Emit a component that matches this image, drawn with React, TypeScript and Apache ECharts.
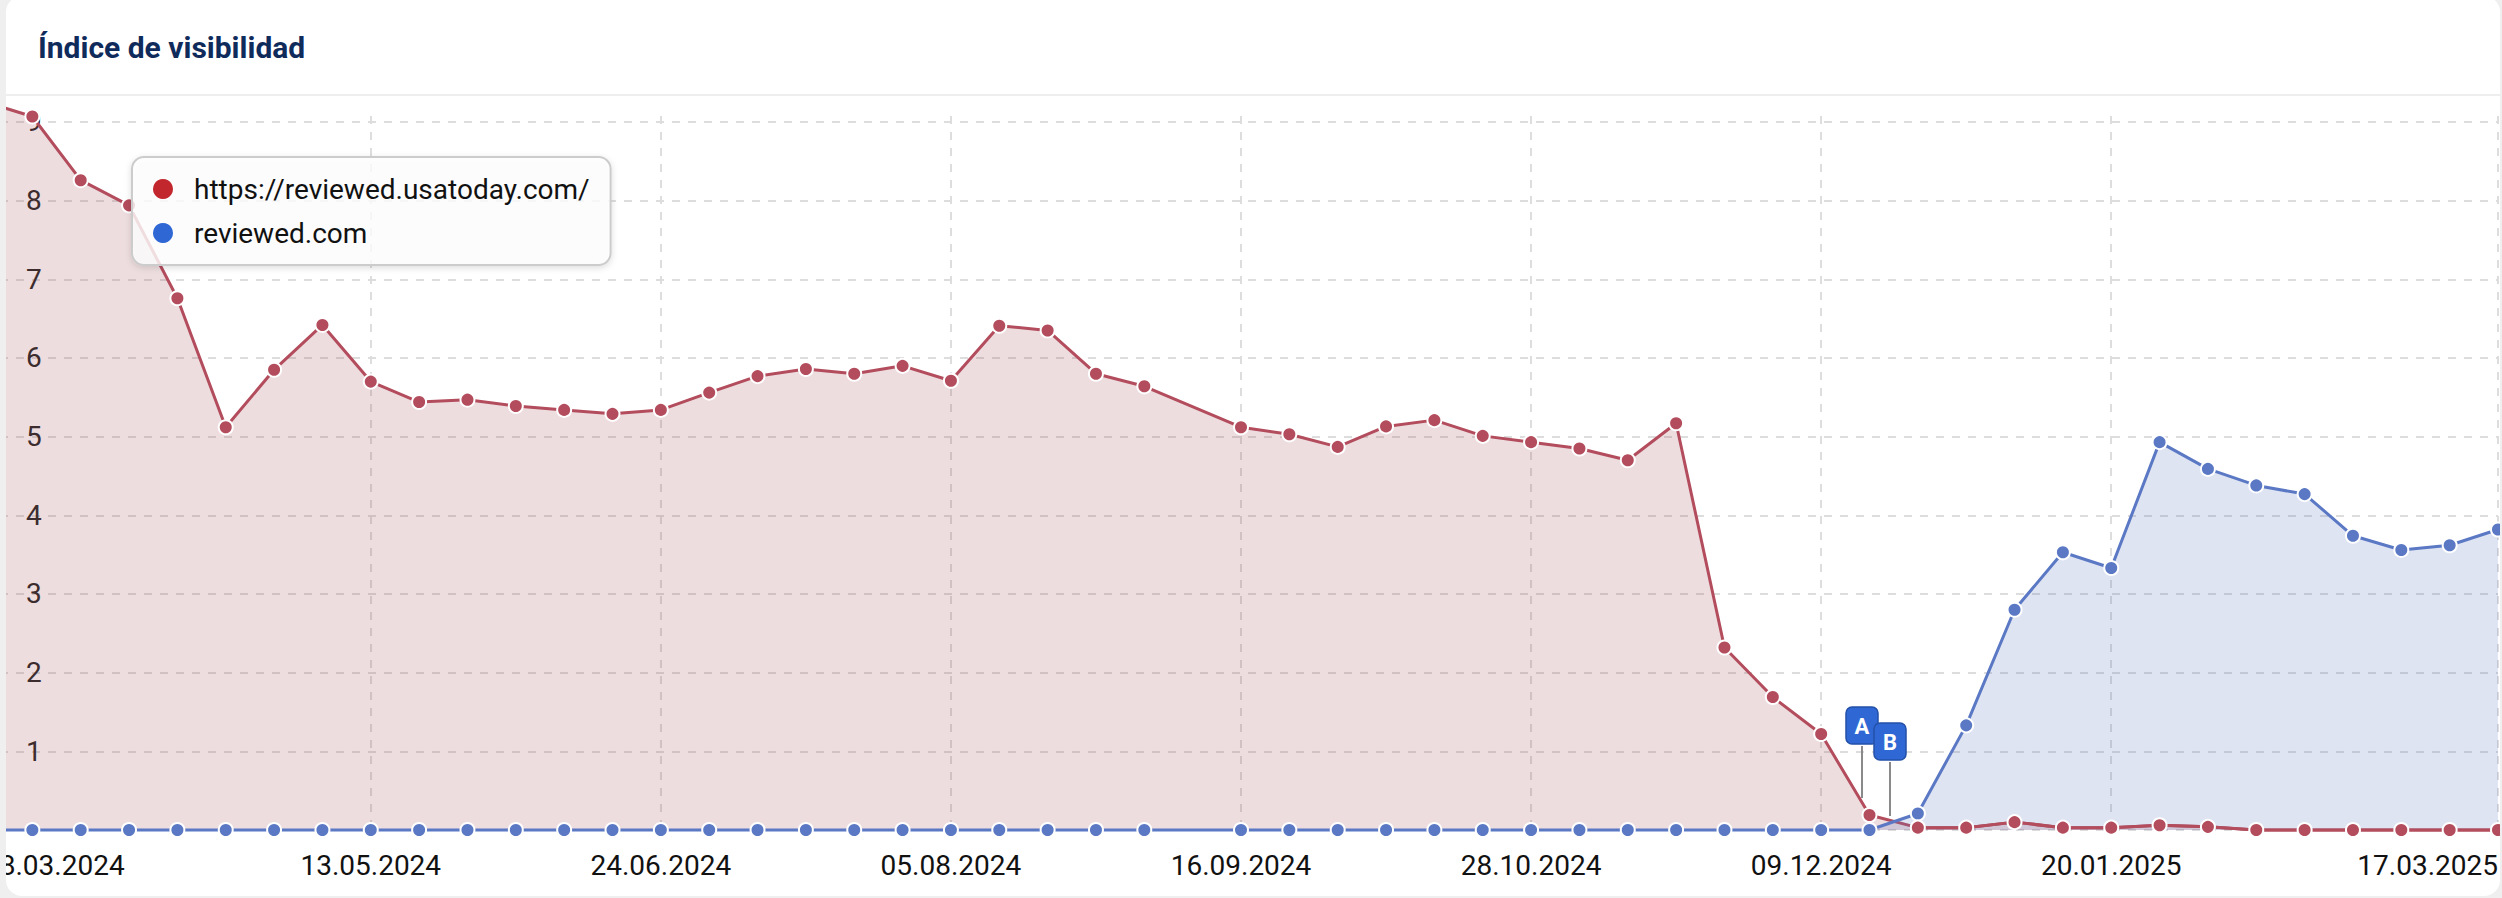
import React, { useEffect, useRef } from "react";
import * as echarts from "echarts";

const categories = ["18.03.2024","25.03.2024","01.04.2024","08.04.2024","15.04.2024","22.04.2024","29.04.2024","06.05.2024","13.05.2024","20.05.2024","27.05.2024","03.06.2024","10.06.2024","17.06.2024","24.06.2024","01.07.2024","08.07.2024","15.07.2024","22.07.2024","29.07.2024","05.08.2024","12.08.2024","19.08.2024","26.08.2024","02.09.2024","09.09.2024","16.09.2024","23.09.2024","30.09.2024","07.10.2024","14.10.2024","21.10.2024","28.10.2024","04.11.2024","11.11.2024","18.11.2024","25.11.2024","02.12.2024","09.12.2024","16.12.2024","23.12.2024","30.12.2024","06.01.2025","13.01.2025","20.01.2025","27.01.2025","03.02.2025","10.02.2025","17.02.2025","24.02.2025","03.03.2025","10.03.2025","17.03.2025"];
const tickLabels = ["18.03.2024","13.05.2024","24.06.2024","05.08.2024","16.09.2024","28.10.2024","09.12.2024","20.01.2025","17.03.2025"];
const usaToday = [9.26,9.07,8.26,7.94,6.76,5.12,5.85,6.42,5.7,5.44,5.47,5.39,5.34,5.29,5.34,5.56,5.77,5.86,5.8,5.9,5.71,6.41,6.35,5.8,5.64,null,5.12,5.03,4.87,5.13,5.21,5.01,4.93,4.85,4.7,5.17,2.32,1.69,1.22,0.19,0.03,0.03,0.1,0.03,0.03,0.06,0.04,0,0,0,0,0,0];
const reviewed = [0,0,0,0,0,0,0,0,0,0,0,0,0,0,0,0,0,0,0,0,0,0,0,0,0,null,0,0,0,0,0,0,0,0,0,0,0,0,0,0,0.21,1.33,2.8,3.53,3.33,4.93,4.59,4.38,4.27,3.74,3.56,3.62,3.82];
const usaTodayName = "https://reviewed.usatoday.com/";
const reviewedName = "reviewed.com";
const titleText = "Índice de visibilidad";
const FRONT_FROM = 40;

const FONT = "Roboto";
const RED = "#b34c5c";
const BLUE = "#5a78c4";

function flag(label: string, x: number, boxTop: number, stemTop: number, stemBottom: number) {
  return [
    { type: "line", z: 50, shape: { x1: x, y1: stemTop, x2: x, y2: stemBottom }, style: { stroke: "#8a8a8a", lineWidth: 2 } },
    { type: "rect", z: 51, shape: { x: x - 16, y: boxTop, width: 32, height: 37, r: 6 }, style: { fill: "#2f68d4", stroke: "#2350a8", lineWidth: 1.5 } },
    { type: "text", z: 52, x, y: boxTop + 19, style: { text: label, fill: "#fff", font: `700 22px ${FONT}`, textAlign: "center", textVerticalAlign: "middle" } },
  ];
}

export default function App() {
  const ref = useRef<HTMLDivElement>(null);
  useEffect(() => {
    const chart = echarts.init(ref.current!, undefined, { renderer: "svg" });
    const isTick = (_: number, v: string) => tickLabels.includes(v);
    const seriesBase = {
      type: "line",
      symbol: "circle",
      symbolSize: 14,
      showAllSymbol: true,
      clip: false,
      connectNulls: true,
    };
    chart.setOption({
      animation: false,
      textStyle: { fontFamily: FONT },
      title: {
        text: titleText,
        left: 38,
        top: 32,
        padding: 0,
        textStyle: { fontFamily: FONT, fontWeight: 700, fontSize: 30, color: "#0f2b5b" },
      },
      grid: { left: -16, right: 4, top: 116, bottom: 68, containLabel: false, outerBoundsMode: "none" },
      legend: {
        left: 132,
        top: 157,
        orient: "vertical",
        padding: [18, 21, 18, 21],
        itemGap: 16,
        itemWidth: 20,
        itemHeight: 20,
        itemStyle: { borderWidth: 0 },
        icon: "circle",
        backgroundColor: "rgba(255,255,255,0.8)",
        borderColor: "#cccccc",
        borderWidth: 2,
        borderRadius: 12,
        shadowColor: "rgba(0,0,0,0.15)",
        shadowBlur: 6,
        shadowOffsetY: 2,
        textStyle: { fontFamily: FONT, fontSize: 28, lineHeight: 28, color: "#111", padding: [0, 0, 0, 16] },
        data: [
          { name: usaTodayName, itemStyle: { color: "#c1272d", borderWidth: 0 } },
          { name: reviewedName, itemStyle: { color: "#2f68d4", borderWidth: 0 } },
        ],
      },
      xAxis: {
        type: "category",
        boundaryGap: false,
        data: categories,
        axisLine: { show: false },
        axisTick: { show: false },
        axisLabel: {
          interval: isTick,
          margin: 21,
          fontFamily: FONT,
          fontSize: 28,
          color: "#111",
          alignMinLabel: "left",
          alignMaxLabel: "right",
          hideOverlap: false,
        },
        splitLine: { show: true, interval: isTick, lineStyle: { color: "#dddddd", width: 2, type: [8, 8] } },
      },
      yAxis: {
        type: "value",
        min: 0,
        max: 9.076,
        interval: 1,
        axisLine: { show: false },
        axisTick: { show: false },
        axisLabel: {
          inside: true,
          margin: 42,
          fontFamily: FONT,
          fontSize: 28,
          color: "#222",
          showMinLabel: false,
          showMaxLabel: false,
        },
        splitLine: { show: true, showMaxLine: false, lineStyle: { color: "#dddddd", width: 2, type: [8, 8] } },
      },
      series: [
        {
          ...seriesBase,
          name: usaTodayName,
          data: usaToday,
          z: 2,
          itemStyle: { color: RED, borderColor: "#fff", borderWidth: 2 },
          lineStyle: { width: 3, color: RED },
          areaStyle: { color: "rgba(165,85,95,0.2)", opacity: 1 },
        },
        {
          ...seriesBase,
          name: reviewedName,
          data: reviewed,
          z: 3,
          itemStyle: { color: BLUE, borderColor: "#fff", borderWidth: 2 },
          lineStyle: { width: 3, color: BLUE },
          areaStyle: { color: "rgba(95,120,195,0.2)", opacity: 1 },
        },
        {
          ...seriesBase,
          name: usaTodayName,
          data: usaToday.map((v, i) => (i >= FRONT_FROM ? v : null)),
          connectNulls: false,
          z: 4,
          silent: true,
          itemStyle: { color: RED, borderColor: "#fff", borderWidth: 2 },
          lineStyle: { width: 3, color: RED },
        },
      ],
      graphic: [
        { type: "rect", z: 1, shape: { x: 0, y: 94, width: 2502, height: 2 }, style: { fill: "#eeeeee" } },
        ...flag("A", 1862, 707, 746, 798),
        ...flag("B", 1890, 723, 762, 816),
      ],
    });
    return () => chart.dispose();
  }, []);
  return (
    <div style={{ position: "fixed", left: 0, top: 0, width: 2502, height: 898, background: "#efefef", overflow: "hidden" }}>
      <div style={{ position: "absolute", left: 6, top: -4, width: 2494, height: 900, background: "#fff", borderRadius: 16, overflow: "hidden" }}>
        <div ref={ref} style={{ position: "absolute", left: -6, top: 4, width: 2502, height: 898 }} />
      </div>
    </div>
  );
}
